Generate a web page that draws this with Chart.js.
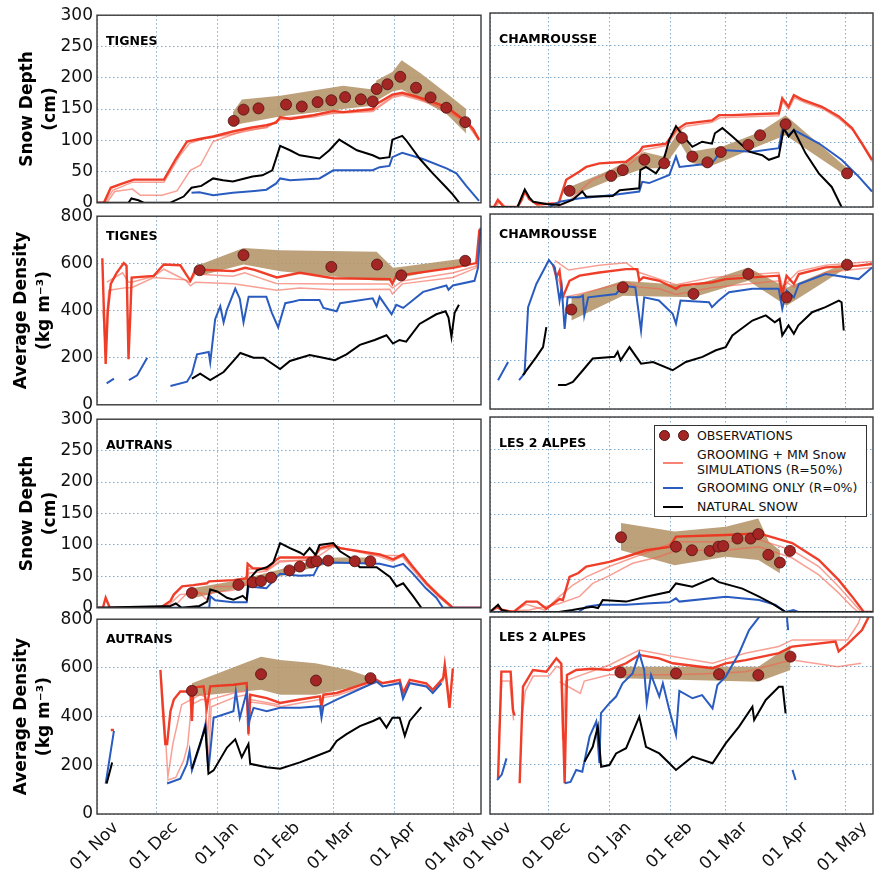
<!DOCTYPE html>
<html>
<head>
<meta charset="utf-8">
<script src="https://cdn.jsdelivr.net/npm/chart.js@4.4.1/dist/chart.umd.min.js"></script>
<style>
  html, body { margin: 0; padding: 0; background: #fff; }
  #fig { position: relative; width: 874px; height: 876px; overflow: hidden; background: #fff; }
  #fig canvas { position: absolute; }
  .legend { position: absolute; left: 654px; top: 425px; width: 213px; height: 92px; background: #fff;
            border: 1px solid #333; box-sizing: border-box; font: 12.5px "DejaVu Sans", sans-serif; color: #111; z-index: 10; }
  .legend span { position: absolute; white-space: nowrap; line-height: 14px; }
  .legend .dot { width: 11px; height: 11px; border-radius: 50%; background: #a32624; border: 1px solid #4d1111; box-sizing: border-box; }
  .legend .mark { width: 20px; height: 0; border-top: 2px solid; }
</style>
</head>
<body>
<div id="fig">
  <div class="legend">
    <span class="dot" style="left:4px;top:4px"></span>
    <span class="dot" style="left:23px;top:4px"></span>
    <span style="left:42px;top:3px">OBSERVATIONS</span>
    <span class="mark" style="left:8px;top:36px;border-color:rgba(244,100,80,0.8)"></span>
    <span style="left:42px;top:22px">GROOMING + MM Snow</span>
    <span style="left:42px;top:37px">SIMULATIONS (R=50%)</span>
    <span class="mark" style="left:8px;top:61px;border-color:#2a5cc0"></span>
    <span style="left:42px;top:55px">GROOMING ONLY (R=0%)</span>
    <span class="mark" style="left:8px;top:80px;border-color:#000"></span>
    <span style="left:42px;top:74px">NATURAL SNOW</span>
  </div>
</div>
<script>
// x = days since 01 Nov
const monthDays = [0, 30, 61, 92, 120, 151, 181];
const monthLabels = ['01 Nov', '01 Dec', '01 Jan', '01 Feb', '01 Mar', '01 Apr', '01 May'];
const depthTicks = [0, 50, 100, 150, 200, 250, 300];
const densityTicks = [0, 200, 400, 600, 800];

// ---- TIGNES snow depth (cm)
const tignesDepthRed1 = [[0,0],[3.5,0],[7,24],[12,30],[18.7,37],[34,37],[40,70],[45.7,98],[52,102],[59,106],[69,114],[78,120],[86,124],[91,128],[93,137],[98,134],[110,140],[120,147],[125,145],[140,150],[142,158],[150,173],[155,176],[162,170],[169,163],[177.5,153],[187.5,130],[191,118],[194,101]];
const tignesDepthRed2 = [[0,0],[5,0],[9,18],[18,22],[22,12],[33,12],[40.6,19],[47.4,52],[52.5,60],[59,98],[66,106],[75,116],[86,120],[93,133],[110,137],[120,143],[140,146],[150,168],[155,172],[162,166],[170,158],[178,149],[188,126],[194,100]];
const tignesDepthRed3 = [[0,0],[4,0],[8,20],[18,33],[34,33],[42,75],[47,95],[55,103],[69,110],[86,121],[93,135],[120,144],[140,148],[150,170],[155,174],[169,161],[188,128],[194,100]];
const tignesDepthBlue = [[48,16],[52,17],[59,12],[69,16],[80,19],[86,21],[91,31],[93,39],[98,36],[113,39],[120,52],[140,52],[143.5,57],[148.5,59],[150,73],[155,80],[165.5,70],[177.5,55],[182.5,47],[187.5,27],[194,3]];
const tignesDepthNatural = [[0,0],[16,0],[17.5,7],[21,4],[24,0],[37,0],[44,10],[48,24],[53,27],[59,39],[64,36],[69,34],[74,38],[79,42],[84,44],[89,52],[93,91],[98,84],[103,76],[113,71],[118,84],[123,101],[132,84],[140,76],[143.5,71],[148.5,73],[150,101],[155,107],[157,100],[164,70],[170.5,47],[177.5,24],[180.5,14],[184,0]];
const tignesDepthObsDays = [69.4,74.4,82,96,104,112,119,126,134,140,142,147.5,154,162,169.4,177.4,187];
const tignesDepthObs = [131,149,151,157,154,161,164,169,165.5,162,182,189.6,201.5,184,168.5,152,129];
const tignesDepthBandDays = [69,73.6,93,125,140,142,150,154.7,164,177.5,187.5];
const tignesDepthBandHigh = [145,165,171,187,181,196,209,228,208,175,150];
const tignesDepthBandLow = [123,127,138,150,155,163,178,181,165,142,111];

// ---- CHAMROUSSE snow depth (cm)
const chamrousseDepthRed1 = [[0,0],[2,0],[4,11],[7,0],[14,0],[16,10],[17.7,24],[20,12],[24,4],[35,6],[38.8,42],[45.6,55],[49,62],[55.7,67.5],[69.3,70],[76,85],[77.7,93],[89.6,98],[94.7,119],[99.7,129],[113,134],[116.6,142],[123.4,142],[147,145],[148.8,168],[152,155],[154.7,173],[159,166],[169,155],[177.6,140],[184.3,122],[189.4,98],[194.5,73]];
const chamrousseDepthRed2 = [[0,0],[3,0],[5,9],[8,0],[34,0],[40,8],[46,26],[52,42],[60,52],[70,64],[76,78],[78,88],[90,95],[95,116],[100,125],[113,131],[117,138],[147,141],[149,163],[152,151],[155,169],[160,162],[170,151],[178,136],[185,118],[190,94],[194.5,70]];
const chamrousseDepthBlue = [[30,0],[35.4,8],[45,13],[62.5,18.6],[76,24],[77.5,39],[81,37],[91.3,49.5],[94.7,78],[96.5,62],[113,67.5],[118,88],[133.6,85.5],[147,91],[149,122],[152,111],[154.7,119],[167.4,98.5],[179,73],[187.7,47],[194.5,24]];
const chamrousseDepthNatural = [[0,0],[14,0],[17.7,27],[20,15],[22,8],[28.7,4.6],[35.4,3],[42,11],[47,24],[49,16],[62.5,17],[66,26],[76,29],[76.5,57],[79.4,62],[84.5,52],[87.9,67.5],[91.3,104],[94.7,125],[98,111],[103,93],[108,101],[113,98],[114.5,114],[118.3,122],[123.4,109],[132,85.5],[138.6,80],[142,73],[147,78],[149.6,122],[152,109],[154.7,119],[160.7,83],[167.4,52],[174,31],[179,0]];
const chamrousseDepthObsDays = [40.5,61.7,67.6,78.6,88.7,97.7,103,110.7,117.5,131.5,137.5,150.5,181.8];
const chamrousseDepthObs = [25,48,57,73,67.5,107,78,69,85,96,111,128,52];
const chamrousseDepthBandDays = [40.5,61.7,78.6,88,97,103,111,118,137.5,150.5,181.8];
const chamrousseDepthBandHigh = [31,58,85,78,122,86,90,93,116,142,60];
const chamrousseDepthBandLow = [16,42,60,60,98,68,62,70,95,111,47];

// ---- TIGNES average density (kg m-3)
const tignesDensityRed1 = [[2.7,622],[3.5,400],[4.4,173],[5.5,400],[7,513],[10,560],[13.6,601],[15,590],[16,193],[17,400],[17.6,540],[28.8,547],[33.9,595],[42.3,592],[47.4,526],[50,574],[69.3,567],[75.2,581],[80,572],[91.3,540],[103,560],[120,537],[148.7,533],[150,513],[152,547],[180.7,581],[192.6,601],[194.2,744]];
const tignesDensityRed2 = [[3,400],[4,270],[6,486],[15,497],[17.6,497],[28.8,540],[45,530],[47.4,505],[50,520],[69.3,513],[91.3,486],[103,495],[120,488],[148.7,490],[150,470],[155,513],[180.7,540],[192.6,581],[194.5,700]];
const tignesDensityRed3 = [[5,520],[13,560],[16,520],[17.6,520],[28.8,545],[34,575],[47,520],[50,555],[69,545],[75,560],[91,515],[120,512],[148,512],[150,495],[155,525],[181,560],[193,590]];
const tignesDensityBlue = [[4.9,91],[8.6,111],[9,null],[16.2,105],[20.4,125],[25.5,200],[26,null],[37.3,80],[45.7,98],[48.2,132],[50.8,214],[56.7,224],[57.5,180],[60,363],[62.6,418],[64.3,350],[66,404],[70.2,493],[72.5,450],[74.4,350],[77,458],[86,458],[88.8,390],[92,329],[95.6,431],[99.8,438],[103,445],[113,445],[115,411],[121.7,397],[123.5,431],[140,452],[142,418],[143.5,458],[149.6,384],[152,424],[155.5,411],[165.6,479],[177.4,506],[178.5,488],[180.7,506],[191.7,526],[193.5,581],[194.7,751]];
const tignesDensityNatural = [[48.2,111],[52.4,132],[57.5,105],[64.3,139],[69.3,186],[72.8,220],[79.5,200],[84.5,200],[93,152],[98,186],[108,211],[113,203],[120.8,189],[126.7,214],[133.5,254],[141,275],[147,295],[150.3,260],[153.6,275],[157,268],[163.8,343],[172.3,384],[177,397],[178.5,370],[180,288],[181.6,390],[183.8,424]];
const tignesDensityObsDays = [52.1,74.4,119,142.2,154.5,187];
const tignesDensityObs = [571,635,585,595,549,611];
const tignesDensityBandDays = [52.4,74.4,93,142,150.3,155,187];
const tignesDensityBandHigh = [595,665,656,649,581,586,622];
const tignesDensityBandLow = [547,595,567,526,526,540,595];

// ---- CHAMROUSSE average density (kg m-3)
const chamrousseDensityRed1 = [[32,595],[33.8,540],[35.4,567],[37,458],[40.5,526],[45.6,547],[55.7,560],[69.3,574],[75,574],[76,526],[78,540],[86.2,526],[94.7,493],[97,506],[113.3,520],[120,533],[147,547],[148.8,472],[151,547],[154.7,513],[157.3,554],[170.8,581],[187.7,588],[194.5,595]];
const chamrousseDensityRed2 = [[33,560],[35.4,520],[37,458],[45.6,472],[69.3,520],[76,500],[86.2,493],[94.7,470],[113.3,498],[147,526],[148.8,460],[151,520],[154.7,500],[170.8,560],[194.5,581]];
const chamrousseDensityRed3 = [[33,610],[40,570],[55.7,590],[69.3,600],[76,560],[94.7,510],[113,540],[147,560],[149,500],[157,565],[171,590],[194.5,605]];
const chamrousseDensityBlue = [[4.1,118],[9.2,193],[9.5,null],[14.8,118],[17.6,146],[19.4,418],[23.6,513],[30,611],[33,581],[35.4,445],[36.5,499],[38,329],[39.5,458],[45.6,458],[47.3,465],[48,384],[50,458],[64.2,472],[67.5,506],[74,499],[76.9,322],[78.5,458],[86,445],[93,391],[94.7,350],[97,445],[111.5,438],[113,418],[116.5,445],[121.7,479],[133.6,493],[147,493],[148.8,411],[151,486],[154.7,458],[157.3,513],[170.8,554],[187.7,533],[194.5,581]];
const chamrousseDensityNatural = [[16.8,139],[23.6,214],[27,254],[28.7,336],[29,null],[34.6,98],[38.5,98],[42.2,111],[47.3,159],[52.3,207],[63.4,214],[65,235],[66.5,200],[71,254],[76.9,186],[83,193],[93,159],[99.7,193],[108.2,214],[115,241],[120,254],[123.4,302],[133.6,363],[140.4,384],[145,356],[147.5,370],[148.8,302],[152,343],[154.7,309],[157,343],[164,397],[170.8,418],[177.6,445],[179,438],[180.1,322]];
const chamrousseDensityObsDays = [41.4,67.6,103.6,131.5,151,181.8];
const chamrousseDensityObs = [408,499,472,554,458,592];
const chamrousseDensityBandDays = [41.4,67.6,103.6,131.5,151,181.8];
const chamrousseDensityBandHigh = [458,526,506,581,497,601];
const chamrousseDensityBandLow = [363,465,458,526,424,581];

// ---- AUTRANS snow depth (cm)
const autransDepthRed1 = [[0,0],[3,0],[4.4,16],[6.5,0],[32.2,0],[37.3,11],[39,21],[43.2,34],[49,36],[55.8,39],[57,42],[69.3,44],[76,47],[76.5,70],[79,63],[86.2,62],[91.3,77],[93,80],[110,80],[113.2,95],[120,100],[123.4,95],[143.6,85],[150.4,77],[155.5,85],[160.5,65],[167.3,39],[174,18],[180.8,0],[195,0]];
const autransDepthRed2 = [[0,0],[32.2,0],[37,6],[42,21],[52,24],[57,21],[60,34],[69.3,34],[76,39],[77,62],[86,60],[93,75],[110,76],[113,92],[120,97],[143,82],[150,74],[155,82],[160,62],[167,37],[174,16],[180,0]];
const autransDepthRed3 = [[32,0],[40,5],[46,24],[50,29],[55.8,13],[58,24],[69,28],[76,37],[77,55],[86,58],[93,73],[110,77],[120,98],[143,83],[155,83],[168,38],[181,0]];
const autransDepthBlue = [[0,0],[57,0],[57.5,18.5],[60,12],[69,9],[76,9],[76.9,34],[86,31],[91.3,49],[93,54],[103,51],[110,52],[113,70],[120,72],[143.6,70],[150.4,65],[155.5,70],[160.5,54],[167,31],[172.3,16],[175.7,0],[195,0]];
const autransDepthNatural = [[0,0],[37.3,3],[40,7],[43,0],[52,3],[56,10],[57.5,29],[61,26],[66,16],[69.3,13],[74,19],[76,13],[76.9,44],[81.2,59.5],[86.2,64.6],[89.5,72],[93,103],[98,95],[103,88],[105,84],[108,95],[111,84],[113,100],[120,103],[123.4,90],[128.4,80],[133.5,64.6],[142,64.6],[148.8,49],[152.1,34],[155.5,39],[160.5,18.5],[164.7,0]];
const autransDepthObsDays = [48.2,71.8,79.1,83.3,88.4,97.7,103,108.9,111.5,117.4,130.9,138.8];
const autransDepthObs = [23.6,36.4,40.5,42.5,48,59.5,65.6,72,74,75,74,74];
const autransDepthBandDays = [48.2,71.8,97.7,117.4,138.8];
const autransDepthBandHigh = [31,44,65,80,80];
const autransDepthBandLow = [15,31,54,70,70];

// ---- LES 2 ALPES snow depth (cm)
const alpesDepthRed1 = [[0,0],[3.3,8],[6,3],[12,0],[18.5,16],[24,16],[28.7,5],[35.4,20],[37.1,18.5],[40.5,54],[45,60],[49,70],[60.8,77],[69.3,85],[79.4,95],[91.3,100],[94.7,116],[120,118.5],[137,121],[153.9,106],[167.4,80],[177.6,49],[184.3,24],[190.3,0],[195,0]];
const alpesDepthRed2 = [[0,0],[4,6],[12,0],[18.5,12],[28,3],[35.4,24],[42.2,41.5],[49,54],[60.8,70],[74,85],[94.7,108],[120,108],[137,111],[153.9,95],[167.4,70],[177.6,39],[184.3,16],[189,0]];
const alpesDepthRed3 = [[0,0],[20,3],[35.4,13],[45.6,24],[52.3,44],[60.8,56],[72.6,75],[86.2,85],[94.7,95],[120,95],[137,100.5],[153.9,83],[167.4,57],[177.6,29],[184.3,8],[187.5,0]];
const alpesDepthBlue = [[0,0],[45,0],[49,8],[55.7,11],[69.3,11],[79.4,13],[91.3,15],[94.7,21],[96.4,16],[120,23.6],[137,18.5],[145.4,11],[150.5,0],[154.5,3],[157,0],[195,0]];
const alpesDepthNatural = [[0,0],[4.1,11],[6,3],[10,0],[35,0],[42,3],[45.6,5],[52,8],[55,6],[57.4,18.5],[69.3,16],[79.4,23.6],[91.3,31],[94.7,44],[103,39],[113.3,52],[116.6,46],[128.5,36],[137,23.6],[143.7,13],[150.5,0],[195,0]];
const alpesDepthObsDays = [66.7,94.7,102.8,111.9,116.3,118.8,126,132.7,136.6,141.7,147.6,152.7];
const alpesDepthObs = [115,100.5,95,94,100.5,101.5,113,113,120,88,76,94];
const alpesDepthBandDays = [66.7,94,120,136.6,142,147.6];
const alpesDepthBandHigh = [137,124,131,144,108,95];
const alpesDepthBandLow = [95,72,85,80,70,59.5];

// ---- AUTRANS average density (kg m-3)
const autransDensityRed1 = [[7,345],[8.6,345],[9,null],[32.2,592],[33.5,422],[34.7,287],[35.6,287],[37.3,422],[39,470],[42.3,503],[47.4,503],[48.2,382],[49,519],[54.1,524],[55.8,436],[57.5,524],[69.3,531],[76,538],[76.9,328],[77.8,490],[86.2,476],[93,456],[103,470],[113.2,483],[114,443],[115,490],[121.7,497],[141.9,551],[145,537],[153.7,551],[155.4,497],[158.8,551],[167.2,537],[170.5,510],[175.8,558],[176.6,612],[179,436],[180.7,598]];
const autransDensityRed2 = [[32.5,560],[34,420],[36,152],[38.5,287],[43,449],[52.5,490],[55,480],[56,300],[57.5,470],[69,496],[76,505],[77,320],[78,460],[86,452],[93,440],[103,456],[113,470],[114,430],[115,478],[122,488],[142,540],[154,540],[155.4,485],[158.8,540],[167,528],[170.5,498],[175.8,548],[177,600],[178.5,500]];
const autransDensityRed3 = [[36,140],[40,150],[44,220],[46,280],[48,449],[53,470],[55,470],[56.5,200],[58,440],[70,480],[76,490],[77,340],[78,470],[93,448]];
const autransDensityBlue = [[4.4,125],[8.6,341],[9,null],[35.6,125],[42.3,145],[45.7,206],[47,260],[48.2,179],[52.5,287],[55,368],[56.6,179],[59.2,395],[69.3,422],[70.5,503],[72.5,395],[76.1,503],[77,375],[79.5,436],[86.2,422],[93,436],[103,436],[113.2,443],[114,395],[115,443],[121.7,470],[141.9,544],[145,524],[153.7,537],[155.4,473],[158.8,537],[167.2,524],[170.5,497],[174.9,537]];
const autransDensityNatural = [[4.9,125],[7.7,212],[8,null],[48.2,186],[55,355],[56.6,165],[59.2,179],[66,273],[70.2,307],[73.5,233],[76.9,287],[77.8,206],[86.2,192],[93,186],[103,212],[109.8,233],[118.3,260],[121.7,300],[126.7,328],[133.5,361],[140.2,382],[143.6,395],[147,355],[150,395],[153.7,395],[156.3,321],[158.8,382],[164.7,439]];
const autransDensityObsDays = [48.2,83.3,111.2,138.9];
const autransDensityObs = [506,574,548,558];
const autransDensityBandDays = [48.2,83.3,93,111,128,138.9];
const autransDensityBandHigh = [537,646,632,619,591,562];
const autransDensityBandLow = [483,510,490,490,517,544];

// ---- LES 2 ALPES average density (kg m-3)
const alpesDensityRed1 = [[4.1,145],[5.8,578],[10.5,578],[11.7,422],[12.5,400],[13,null],[15.1,125],[16.8,517],[21.9,585],[28.7,578],[33.8,632],[36.3,610],[38,125],[39.2,565],[43.9,585],[52,590],[60.8,585],[69.3,612],[76,646],[86,632],[93,612],[113.3,592],[120,612],[130.2,625],[147.1,653],[153.9,680],[175.9,700],[177.5,660],[182,690],[189.4,747],[192.8,800]];
const alpesDensityRed2 = [[4.5,300],[6,540],[10,540],[12,380],[12.5,null],[16,380],[18,500],[22,560],[30,560],[34,600],[36,590],[37,300],[38.5,540],[45,560],[60.8,605],[76,666],[94,639],[113.3,612],[130,653],[147,680],[154,707],[182,707],[187.5,774],[190,830]];
const alpesDensityRed3 = [[35.4,537],[46,490],[48,540],[60.8,565],[76,565],[93,565],[113.3,571],[130,578],[147,612],[154,625],[177,598],[189,612]];
const alpesDensityBlue = [[3.6,138],[6,160],[8.4,226],[8.6,null],[38,125],[41,130],[43.9,179],[47,172],[50.7,314],[54.1,375],[55.7,206],[56.5,410],[60.8,450],[64.2,477],[67.5,531],[72.6,571],[76,653],[78.5,585],[79.8,450],[82,565],[86.2,477],[88,531],[91.3,422],[94.7,321],[96.4,500],[103.1,470],[108,483],[113.3,429],[115.8,524],[120,558],[126.8,653],[131.9,747],[137,800],[139,870],[150.8,880],[151.3,788],[151.8,747],[152,null],[154,179],[155.6,138]];
const alpesDensityNatural = [[48.1,212],[52.3,273],[54.9,355],[56.6,192],[60.8,199],[64.2,246],[69.3,267],[76,395],[79.4,273],[86.2,246],[91.3,206],[94.7,179],[103.1,233],[113.3,206],[120,287],[126.8,355],[133.6,436],[134.5,382],[140.4,463],[147.1,517],[149,517],[150.5,409]];
const alpesDensityObsDays = [66.4,94.7,116.6,136.6,153];
const alpesDensityObs = [575,571,568,564,639];
const alpesDensityBandDays = [66.4,136.6,153];
const alpesDensityBandHigh = [598,598,686];
const alpesDensityBandLow = [551,537,585];

// couleurs
const RED = 'rgba(238,52,30,0.95)';
const RED_LIGHT = 'rgba(244,96,76,0.6)';
const BLUE = '#2a5cc0';
const BAND = 'rgba(180,148,105,0.88)';
const OBS = '#a32624';
const GRID = 'rgba(100,150,190,0.8)';

Chart.defaults.font.family = '"DejaVu Sans", sans-serif';
Chart.defaults.color = '#111';

// position des cadres (pixels)
const colLeft = [97, 490], colRight = [481, 873];
const rowTop = [13, 214, 417, 617], rowBottom = [207, 409, 612, 814];

const kinds = {
    depth: { max: 300, ticks: depthTicks, title: ['Snow Depth', '(cm)'], titlePad: 17, labelDy: 27 },
    density: { max: 800, ticks: densityTicks, title: ['Average Density', '(kg m\u207B\u00B3)'], titlePad: 11, labelDy: 21 }
};

const panels = [
    { col: 0, row: 0, kind: 'depth', label: 'TIGNES', reds: [tignesDepthRed1, tignesDepthRed2, tignesDepthRed3], blue: tignesDepthBlue, black: tignesDepthNatural, obsDays: tignesDepthObsDays, obs: tignesDepthObs, bandDays: tignesDepthBandDays, bandHigh: tignesDepthBandHigh, bandLow: tignesDepthBandLow },
    { col: 1, row: 0, kind: 'depth', label: 'CHAMROUSSE', reds: [chamrousseDepthRed1, chamrousseDepthRed2], blue: chamrousseDepthBlue, black: chamrousseDepthNatural, obsDays: chamrousseDepthObsDays, obs: chamrousseDepthObs, bandDays: chamrousseDepthBandDays, bandHigh: chamrousseDepthBandHigh, bandLow: chamrousseDepthBandLow },
    { col: 0, row: 1, kind: 'density', label: 'TIGNES', reds: [tignesDensityRed1, tignesDensityRed2, tignesDensityRed3], blue: tignesDensityBlue, black: tignesDensityNatural, obsDays: tignesDensityObsDays, obs: tignesDensityObs, bandDays: tignesDensityBandDays, bandHigh: tignesDensityBandHigh, bandLow: tignesDensityBandLow },
    { col: 1, row: 1, kind: 'density', label: 'CHAMROUSSE', reds: [chamrousseDensityRed1, chamrousseDensityRed2, chamrousseDensityRed3], blue: chamrousseDensityBlue, black: chamrousseDensityNatural, obsDays: chamrousseDensityObsDays, obs: chamrousseDensityObs, bandDays: chamrousseDensityBandDays, bandHigh: chamrousseDensityBandHigh, bandLow: chamrousseDensityBandLow },
    { col: 0, row: 2, kind: 'depth', label: 'AUTRANS', reds: [autransDepthRed1, autransDepthRed2, autransDepthRed3], blue: autransDepthBlue, black: autransDepthNatural, obsDays: autransDepthObsDays, obs: autransDepthObs, bandDays: autransDepthBandDays, bandHigh: autransDepthBandHigh, bandLow: autransDepthBandLow },
    { col: 1, row: 2, kind: 'depth', label: 'LES 2 ALPES', reds: [alpesDepthRed1, alpesDepthRed2, alpesDepthRed3], blue: alpesDepthBlue, black: alpesDepthNatural, obsDays: alpesDepthObsDays, obs: alpesDepthObs, bandDays: alpesDepthBandDays, bandHigh: alpesDepthBandHigh, bandLow: alpesDepthBandLow },
    { col: 0, row: 3, kind: 'density', label: 'AUTRANS', reds: [autransDensityRed1, autransDensityRed2, autransDensityRed3], blue: autransDensityBlue, black: autransDensityNatural, obsDays: autransDensityObsDays, obs: autransDensityObs, bandDays: autransDensityBandDays, bandHigh: autransDensityBandHigh, bandLow: autransDensityBandLow },
    { col: 1, row: 3, kind: 'density', label: 'LES 2 ALPES', reds: [alpesDensityRed1, alpesDensityRed2, alpesDensityRed3], blue: alpesDensityBlue, black: alpesDensityNatural, obsDays: alpesDensityObsDays, obs: alpesDensityObs, bandDays: alpesDensityBandDays, bandHigh: alpesDensityBandHigh, bandLow: alpesDensityBandLow }
];

const xy = arr => arr.map(([x, y]) => ({ x, y }));
const pairs = (xs, ys) => xs.map((x, i) => ({ x, y: ys[i] }));

// cadre complet + nom de la station
const framePlugin = {
    id: 'panelFrame',
    afterDraw(chart, args, opts) {
        const { ctx, chartArea: a } = chart;
        ctx.save();
        ctx.strokeStyle = '#3a3a3a';
        ctx.lineWidth = 1.4;
        ctx.strokeRect(a.left, a.top, a.right - a.left, a.bottom - a.top);
        ctx.font = 'bold 12.5px "DejaVu Sans", sans-serif';
        ctx.fillStyle = '#000';
        ctx.textBaseline = 'middle';
        ctx.fillText(opts.label, a.left + 9, a.top + opts.labelDy);
        ctx.restore();
    }
};

function buildDatasets(p) {
    const ds = [];
    ds.push({ data: pairs(p.bandDays, p.bandHigh), fill: '+1', backgroundColor: BAND, borderWidth: 0, pointRadius: 0, order: 9 });
    ds.push({ data: pairs(p.bandDays, p.bandLow), fill: false, borderWidth: 0, pointRadius: 0, order: 10 });
    p.reds.forEach((r, i) => {
        ds.push({ data: xy(r), borderColor: i === 0 ? RED : RED_LIGHT, borderWidth: i === 0 ? 2.4 : 1.5, pointRadius: 0, fill: false, order: 4 + i });
    });
    ds.push({ data: xy(p.blue), borderColor: BLUE, borderWidth: 2, pointRadius: 0, fill: false, order: 3 });
    ds.push({ data: xy(p.black), borderColor: '#000', borderWidth: 2, pointRadius: 0, fill: false, order: 2 });
    ds.push({ data: pairs(p.obsDays, p.obs), showLine: false, pointRadius: 5.5, pointBackgroundColor: OBS, pointBorderColor: '#4d1111', pointBorderWidth: 0.8, order: 1 });
    return ds;
}

function makePanel(p) {
    const k = kinds[p.kind];
    const bottomRow = p.row === 3;
    const L = p.col === 0 ? 97 : 50;
    const R = 8, T = 12;
    const B = bottomRow ? 62 : 10;
    const plotW = colRight[p.col] - colLeft[p.col];
    const plotH = rowBottom[p.row] - rowTop[p.row];

    const canvas = document.createElement('canvas');
    canvas.width = L + plotW + R;
    canvas.height = T + plotH + B;
    canvas.style.left = (colLeft[p.col] - L) + 'px';
    canvas.style.top = (rowTop[p.row] - T) + 'px';
    document.getElementById('fig').appendChild(canvas);

    new Chart(canvas, {
        type: 'line',
        data: { datasets: buildDatasets(p) },
        options: {
            responsive: false,
            animation: false,
            layout: { padding: { top: T, right: R, left: 0, bottom: 0 } },
            plugins: {
                legend: { display: false },
                tooltip: { enabled: false },
                panelFrame: { label: p.label, labelDy: k.labelDy }
            },
            scales: {
                x: {
                    type: 'linear', min: 0, max: 195,
                    afterBuildTicks: ax => { ax.ticks = monthDays.map(v => ({ value: v })); },
                    afterFit: ax => { ax.height = B; },
                    grid: { color: GRID, lineWidth: 1, drawTicks: false },
                    border: { display: false, dash: [1.5, 2.5] },
                    ticks: {
                        display: bottomRow, autoSkip: false, minRotation: 45, maxRotation: 45,
                        labelOffset: 19, padding: 4, color: '#111', font: { size: 17 },
                        callback: v => monthLabels[monthDays.indexOf(v)]
                    }
                },
                y: {
                    min: 0, max: k.max,
                    afterBuildTicks: ax => { ax.ticks = k.ticks.map(v => ({ value: v })); },
                    afterFit: ax => { ax.width = L; },
                    grid: { color: GRID, lineWidth: 1, drawTicks: false },
                    border: { display: false, dash: [1.5, 2.5] },
                    ticks: { display: p.col === 0, padding: 4, color: '#111', font: { size: 17 } },
                    title: {
                        display: p.col === 0, text: k.title, color: '#000',
                        font: { size: 17, weight: 'bold', lineHeight: 1.3 },
                        padding: { top: k.titlePad, bottom: 0 }
                    }
                }
            }
        },
        plugins: [framePlugin]
    });
}

panels.forEach(makePanel);
</script>
</body>
</html>
